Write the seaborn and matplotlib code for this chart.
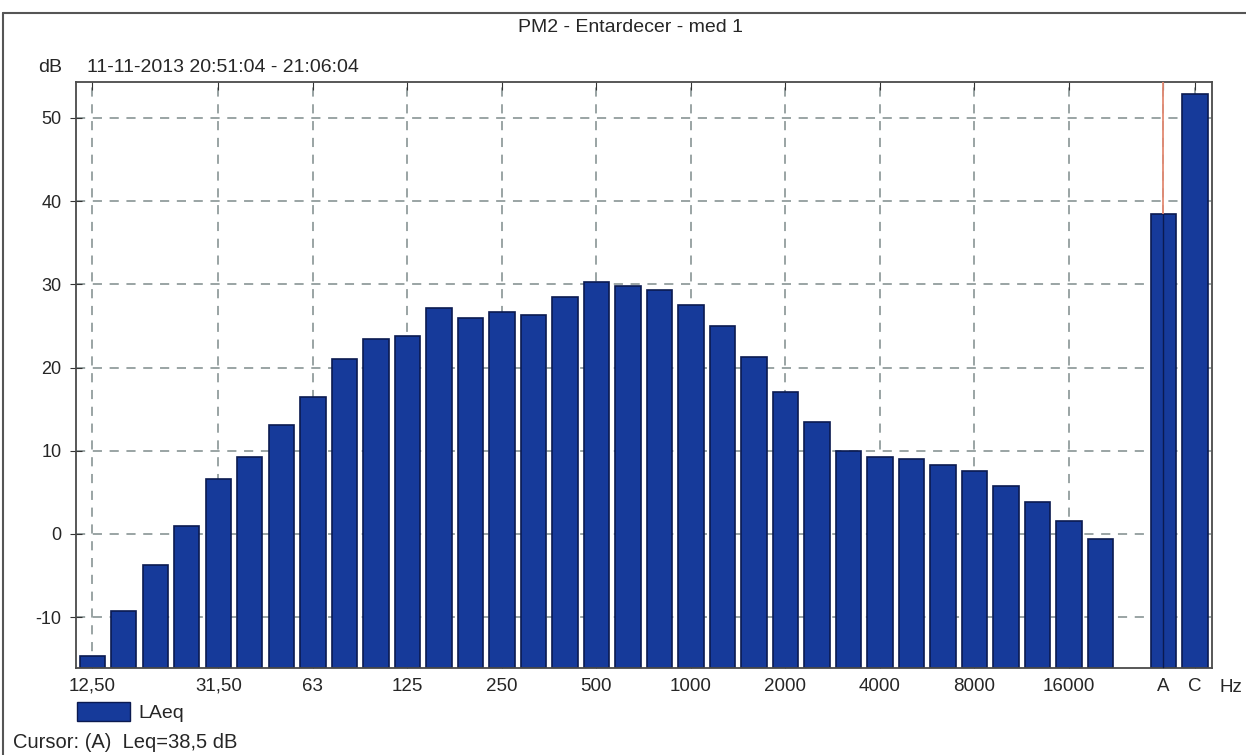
import numpy as np
import pandas as pd
import matplotlib
matplotlib.use("Agg")
import matplotlib.pyplot as plt
from matplotlib.lines import Line2D
from matplotlib.patches import Patch
import seaborn as sns

# ---- data ----
band_labels = ["12,50", "16", "20", "25", "31,50", "40", "50", "63", "80", "100",
               "125", "160", "200", "250", "315", "400", "500", "630", "800", "1000",
               "1250", "1600", "2000", "2500", "3150", "4000", "5000", "6300", "8000",
               "10000", "12500", "16000", "20000"]
band_values = [-14.7, -9.3, -3.7, 0.9, 6.6, 9.2, 13.1, 16.4, 21.0, 23.4,
               23.8, 27.1, 26.0, 26.7, 26.3, 28.5, 30.3, 29.8, 29.3, 27.5,
               25.0, 21.3, 17.0, 13.5, 10.0, 9.25, 9.0, 8.25, 7.6,
               5.75, 3.8, 1.55, -0.6]
total_labels = ["A", "C"]
total_values = [38.5, 52.8]
tick_labels = ["12,50", "31,50", "63", "125", "250", "500", "1000", "2000",
               "4000", "8000", "16000", "A", "C"]
y_ticks = [-10, 0, 10, 20, 30, 40, 50]
cursor_value = 38.5

BASE = -16.1
TOP = 54.3
GAP = " "

sns.set_style("white")
plt.rcParams["font.family"] = ["Liberation Sans", "DejaVu Sans"]

order = band_labels + [GAP] + total_labels
df = pd.DataFrame({
    "band": band_labels + total_labels,
    "value": band_values + total_values,
})
df["height"] = df["value"] - BASE

W, H = 1246, 755
fig = plt.figure(figsize=(W / 100, H / 100), dpi=100)
ax = fig.add_axes([76 / W, 1 - 668 / H, (1212 - 76) / W, (668 - 82) / H])

bar_color = "#163a9a"
edge_color = "#0b1a50"
sns.barplot(data=df, x="band", y="height", order=order, ax=ax,
            color=bar_color, edgecolor=edge_color, linewidth=1.2,
            width=0.8, bottom=BASE, saturation=1)

ax.set_ylim(BASE, TOP)
ax.set_xlim(-0.52, len(order) - 0.46)
ax.set_xlabel("")
ax.set_ylabel("")

tick_pos = [order.index(t) for t in tick_labels]
ax.set_xticks(tick_pos)
ax.set_xticklabels(tick_labels, fontsize=13.5)
ax.set_yticks(y_ticks)
ax.set_yticklabels([str(v) for v in y_ticks], fontsize=13)

ax.set_axisbelow(True)
ax.grid(True, which="major", axis="both", color="#7f8c8c",
        linestyle=(0, (6, 5)), linewidth=1.1)

ax.tick_params(axis="x", which="major", direction="in", length=6,
               top=True, bottom=True, color="#333333", pad=7)
ax.tick_params(axis="y", which="major", direction="inout", length=9,
               left=True, color="#333333", pad=6)

for s in ax.spines.values():
    s.set_color("#4a4a4a")
    s.set_linewidth(1.3)

# cursor at A
a_pos = order.index("A")
ax.vlines(a_pos, cursor_value, TOP, color="#e38a72", linewidth=1.3, zorder=4)
ax.vlines(a_pos, BASE, cursor_value, color=edge_color, linewidth=1.0, zorder=4)

# texts
fig.text(630 / W, 1 - 28 / H, "PM2 - Entardecer - med 1", ha="center",
         va="center", fontsize=14)
fig.text(38 / W, 1 - 68 / H, "dB", ha="left", va="center", fontsize=14)
fig.text(87 / W, 1 - 68 / H, "11-11-2013 20:51:04 - 21:06:04", ha="left",
         va="center", fontsize=14)
fig.text(1231 / W, 1 - 688 / H, "Hz", ha="center", va="center", fontsize=13.5)

leg = fig.legend(handles=[Patch(facecolor=bar_color, edgecolor=edge_color, label="LAeq")],
                 loc="upper left", bbox_to_anchor=(77 / W, 1 - 702 / H),
                 frameon=False, fontsize=14, borderpad=0, borderaxespad=0,
                 handlelength=2.7, handleheight=1.1, handletextpad=0.45)

fig.text(13 / W, 1 - 743 / H, "Cursor: (A)  Leq=38,5 dB", ha="left",
         va="center", fontsize=14.5)

# outer frame
fig.add_artist(Line2D([3 / W, 1.0], [1 - 13 / H, 1 - 13 / H],
                      transform=fig.transFigure, color="#555555", linewidth=1.5))
fig.add_artist(Line2D([3 / W, 3 / W], [0.0, 1 - 13 / H],
                      transform=fig.transFigure, color="#555555", linewidth=1.5))

fig.savefig("out.png", dpi=100)
